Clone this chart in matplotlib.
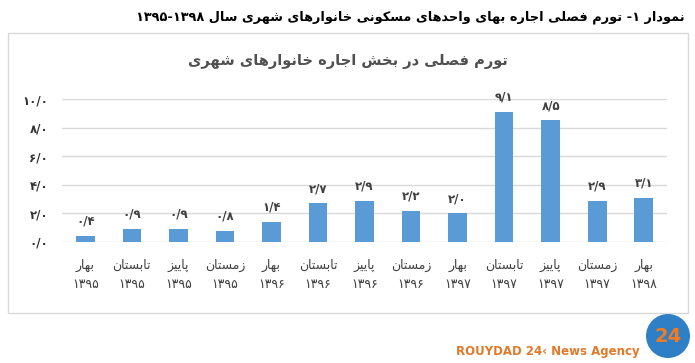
import matplotlib
matplotlib.use("Agg")
import matplotlib.pyplot as plt
from matplotlib.patches import Rectangle, Ellipse

# --- data ---
seasons = ["بهار", "تابستان", "پاییز", "زمستان",
           "بهار", "تابستان", "پاییز", "زمستان",
           "بهار", "تابستان", "پاییز", "زمستان",
           "بهار"]
years = ["۱۳۹۵", "۱۳۹۵", "۱۳۹۵", "۱۳۹۵",
         "۱۳۹۶", "۱۳۹۶", "۱۳۹۶", "۱۳۹۶",
         "۱۳۹۷", "۱۳۹۷", "۱۳۹۷", "۱۳۹۷",
         "۱۳۹۸"]
values = [0.4, 0.9, 0.9, 0.8, 1.4, 2.7, 2.9, 2.2, 2.0, 9.1, 8.5, 2.9, 3.1]
yticks = [0, 2, 4, 6, 8, 10]

title_main = "نمودار ۱- تورم فصلی اجاره بهای واحدهای مسکونی خانوارهای شهری سال ۱۳۹۵-۱۳۹۸"
title_chart = "تورم فصلی در بخش اجاره خانوارهای شهری"

# --- minimal arabic/persian shaping (matplotlib has no bidi) ---
# letter: (isolated, final, initial, medial); 2 forms => right-joining only
FORMS = {
    "ا": (0xFE8D, 0xFE8E), "د": (0xFEA9, 0xFEAA), "ر": (0xFEAD, 0xFEAE),
    "ز": (0xFEAF, 0xFEB0), "و": (0xFEED, 0xFEEE),
    "ب": (0xFE8F, 0xFE90, 0xFE91, 0xFE92), "پ": (0xFB56, 0xFB57, 0xFB58, 0xFB59),
    "ت": (0xFE95, 0xFE96, 0xFE97, 0xFE98), "ج": (0xFE9D, 0xFE9E, 0xFE9F, 0xFEA0),
    "ح": (0xFEA1, 0xFEA2, 0xFEA3, 0xFEA4), "خ": (0xFEA5, 0xFEA6, 0xFEA7, 0xFEA8),
    "س": (0xFEB1, 0xFEB2, 0xFEB3, 0xFEB4), "ش": (0xFEB5, 0xFEB6, 0xFEB7, 0xFEB8),
    "ص": (0xFEB9, 0xFEBA, 0xFEBB, 0xFEBC), "ف": (0xFED1, 0xFED2, 0xFED3, 0xFED4),
    "ک": (0xFB8E, 0xFB8F, 0xFB90, 0xFB91), "ل": (0xFEDD, 0xFEDE, 0xFEDF, 0xFEE0),
    "م": (0xFEE1, 0xFEE2, 0xFEE3, 0xFEE4), "ن": (0xFEE5, 0xFEE6, 0xFEE7, 0xFEE8),
    "ه": (0xFEE9, 0xFEEA, 0xFEEB, 0xFEEC), "ی": (0xFBFC, 0xFBFD, 0xFBFE, 0xFBFF),
}


def shape_word(w):
    out = []
    i = 0
    while i < len(w):
        c = w[i]
        if c not in FORMS:
            out.append(c)
            i += 1
            continue
        prev = w[i - 1] if i > 0 else None
        joins_prev = prev is not None and prev in FORMS and len(FORMS[prev]) == 4
        # lam-alef ligature
        if c == "ل" and i + 1 < len(w) and w[i + 1] == "ا":
            out.append(chr(0xFEFC if joins_prev else 0xFEFB))
            i += 2
            continue
        nxt = w[i + 1] if i + 1 < len(w) else None
        f = FORMS[c]
        joins_next = len(f) == 4 and nxt is not None and nxt in FORMS
        if joins_prev and joins_next:
            out.append(chr(f[3]))
        elif joins_next:
            out.append(chr(f[2]))
        elif joins_prev:
            out.append(chr(f[1]))
        else:
            out.append(chr(f[0]))
        i += 1
    return "".join(out)


def rtl(s):
    lines = []
    for line in s.split("\n"):
        toks = line.split(" ")
        vis = []
        for t in reversed(toks):
            if any(ch in FORMS for ch in t):
                vis.append(shape_word(t)[::-1])
            else:
                # number run stays LTR, trailing neutral goes to the left
                if t.endswith("-"):
                    t = "-" + t[:-1]
                vis.append(t)
        lines.append(" ".join(vis))
    return "\n".join(lines)


to_fa = str.maketrans("0123456789.", "۰۱۲۳۴۵۶۷۸۹/")

plt.rcParams['font.family'] = ['DejaVu Sans']

fig = plt.figure(figsize=(6.95, 3.63), dpi=100)
fig.patch.set_facecolor("white")

# chart frame
fig.patches.append(Rectangle((8 / 695, 1 - 313 / 363), 680 / 695, 280 / 363,
                             transform=fig.transFigure, fill=False,
                             edgecolor="#d9d9d9", linewidth=1.0))

fig.text(0.985, 0.953, rtl(title_main), ha="right", va="center",
         fontsize=9.3, fontweight="bold", color="black")
fig.text(0.50, 0.83, rtl(title_chart), ha="center", va="center",
         fontsize=10.5, fontweight="bold", color="#505050")

ax = fig.add_axes([62 / 695, 1 - 242 / 363, 605 / 695, 143 / 363])
x = list(range(len(values)))
bars = ax.bar(x, values, width=0.4, color="#5b9bd5", zorder=3)

ax.set_xlim(-0.5, len(values) - 0.5)
ax.set_ylim(0, 10)
ax.set_yticks(yticks)
ax.set_yticklabels([f"{v:.1f}".translate(to_fa) for v in yticks],
                   fontsize=8.5, fontweight="bold", color="#333333")
ax.yaxis.grid(True, color="#d9d9d9", linewidth=1.0, zorder=0)
ax.tick_params(axis="y", length=0, pad=10)
ax.tick_params(axis="x", length=0, pad=12)
for s in ax.spines.values():
    s.set_visible(False)

ax.set_xticks(x)
ax.set_xticklabels([rtl(f"{s}\n{y}") for s, y in zip(seasons, years)],
                   fontsize=9, color="#404040", linespacing=1.6)

for b, v in zip(bars, values):
    ax.annotate(f"{v:.1f}".translate(to_fa), (b.get_x() + b.get_width() / 2, v),
                xytext=(0, 6), textcoords="offset points", ha="center", va="bottom",
                fontsize=8.5, fontweight="bold", color="#404040")

# agency mark bottom-right
cx, cy, r = 668, 336, 22
fig.patches.append(Ellipse((cx / 695, 1 - cy / 363), 2 * r / 695, 2 * r / 363,
                           transform=fig.transFigure,
                           facecolor="#2f7fc7", edgecolor="none"))
fig.text(cx / 695, 1 - cy / 363, "24", ha="center", va="center",
         fontsize=14, fontweight="bold", color="#f07b22")
fig.text(640 / 695, 1 - 352 / 363, "ROUYDAD 24\u2039 News Agency", ha="right",
         va="center", fontsize=8.5, fontweight="bold", color="#e07a2a")

fig.savefig("out.png", dpi=100, facecolor="white")
